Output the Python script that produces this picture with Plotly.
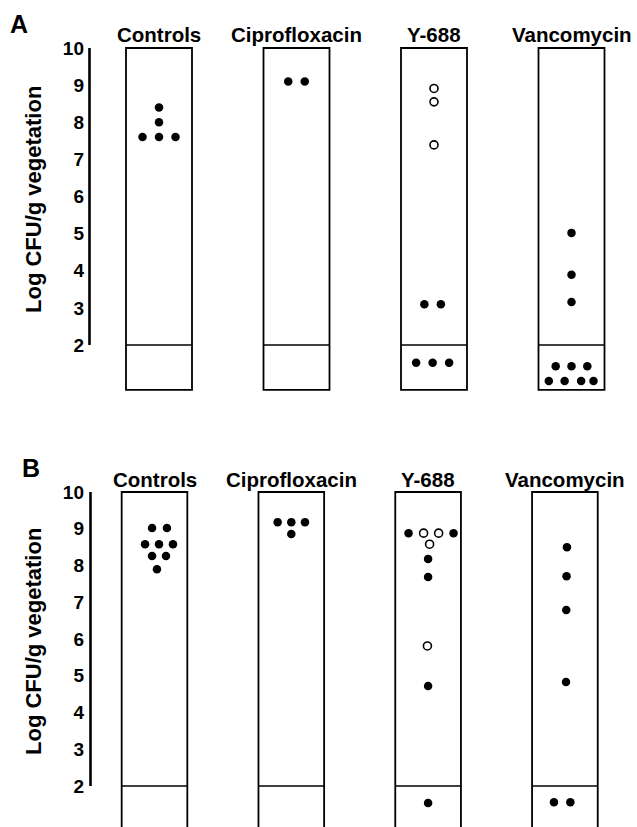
import plotly.graph_objects as go

# ---------------- data ----------------
groups = ["Controls", "Ciprofloxacin", "Y-688", "Vancomycin"]
y_ticks = [2, 3, 4, 5, 6, 7, 8, 9, 10]
y_tick_text = ["2", "3", "4", "5", "6", "7", "8", "9", "10"]
detection_limit = 2
y_title = "Log CFU/g vegetation"
panel_labels = ["A", "B"]

# Panel A (filled = solid circles, open = hollow circles)
a_solid_group = [0, 0, 0, 0, 0, 1, 1, 2, 2, 2, 2, 2, 3, 3, 3, 3, 3, 3, 3, 3, 3, 3]
a_solid_value = [8.4, 8.0, 7.6, 7.6, 7.6, 9.1, 9.1, 3.1, 3.1, 1.52, 1.52, 1.52,
                 5.02, 3.89, 3.16, 1.43, 1.43, 1.43, 1.03, 1.03, 1.03, 1.03]
a_open_group = [2, 2, 2]
a_open_value = [8.91, 8.55, 7.39]

# Panel B
b_solid_group = [0, 0, 0, 0, 0, 0, 0, 0, 1, 1, 1, 1, 2, 2, 2, 2, 2, 2, 3, 3, 3, 3, 3, 3]
b_solid_value = [9.02, 9.02, 8.58, 8.58, 8.58, 8.26, 8.26, 7.9,
                 9.18, 9.18, 9.18, 8.86,
                 8.88, 8.88, 8.18, 7.69, 4.72, 1.54,
                 8.5, 7.71, 6.79, 4.83, 1.56, 1.56]
b_open_group = [2, 2, 2, 2]
b_open_value = [8.88, 8.88, 8.58, 5.81]

# ---------------- layout helpers (dot dodge within each strip) ----------------
a_solid_dodge = [0, 0, -0.12, 0, 0.12, -0.06, 0.06, -0.07, 0.05, -0.13, -0.01, 0.11,
                 0, 0, 0, -0.115, 0, 0.115, -0.165, -0.05, 0.07, 0.16]
a_open_dodge = [0, 0, 0]
b_solid_dodge = [-0.018, 0.091, -0.069, 0.033, 0.135, -0.018, 0.084, 0.018,
                 -0.1, 0, 0.1, 0,
                 -0.143, 0.186, 0, 0, 0, 0,
                 0.015, 0.012, 0.01, 0.008, -0.08, 0.04]
b_open_dodge = [-0.033, 0.077, 0.011, -0.005]

FONT = "Liberation Sans, Arial, Helvetica, sans-serif"
W, H = 637, 827
L_M, R_M = 85, 12
box_half = 0.24

fig = go.Figure()

def add_points(groups_i, values, dodge, xa, ya, filled):
    xs = [g + d for g, d in zip(groups_i, dodge)]
    fig.add_trace(go.Scatter(
        x=xs, y=values, mode="markers", xaxis=xa, yaxis=ya,
        marker=dict(symbol="circle", size=8.5 if filled else 8,
                    color="black" if filled else "white",
                    line=dict(color="black", width=0 if filled else 1.6)),
        showlegend=False, hoverinfo="y"))

add_points(a_solid_group, a_solid_value, a_solid_dodge, "x", "y", True)
add_points(a_open_group, a_open_value, a_open_dodge, "x", "y", False)
add_points(b_solid_group, b_solid_value, b_solid_dodge, "x2", "y2", True)
add_points(b_open_group, b_open_value, b_open_dodge, "x2", "y2", False)

# pixel geometry of the two panels: (center of first strip, px per strip, axis-line px)
geom = [dict(xr="x", yr="y", c0=159.0, unit=137.5, axis_px=89.5, bottom=0.79),
        dict(xr="x2", yr="y2", c0=154.5, unit=136.8, axis_px=90.5, bottom=0.3)]

shapes = []
annotations = []
for p in geom:
    for i, g in enumerate(groups):
        shapes.append(dict(type="rect", xref=p["xr"], yref=p["yr"],
                           x0=i - box_half, x1=i + box_half, y0=p["bottom"], y1=10,
                           line=dict(color="black", width=1.8), fillcolor="rgba(0,0,0,0)",
                           layer="below"))
        shapes.append(dict(type="line", xref=p["xr"], yref=p["yr"],
                           x0=i - box_half, x1=i + box_half,
                           y0=detection_limit, y1=detection_limit,
                           line=dict(color="black", width=1.6), layer="below"))
    xa = (p["axis_px"] - p["c0"]) / p["unit"]
    shapes.append(dict(type="line", xref=p["xr"], yref=p["yr"],
                       x0=xa, x1=xa, y0=y_ticks[0], y1=y_ticks[-1],
                       line=dict(color="black", width=2.6)))

# group labels
label_y = [(H - 35) / H, (H - 479) / H]
for k, p in enumerate(geom):
    for i, g in enumerate(groups):
        annotations.append(dict(text=g, xref=p["xr"], yref="paper", x=i, y=label_y[k],
                                xanchor="center", yanchor="middle", showarrow=False,
                                font=dict(family=FONT, size=20.5, color="black", weight="bold")))

pw = W - L_M - R_M
# y titles
for yc in [200, 642]:
    annotations.append(dict(text=y_title, xref="paper", yref="paper",
                            x=(33 - L_M) / pw, y=(H - yc) / H, textangle=-90,
                            xanchor="center", yanchor="middle", showarrow=False,
                            font=dict(family=FONT, size=22, color="black", weight="bold")))
# panel letters
for lab, (xc, yc) in zip(panel_labels, [(19, 24), (31, 468)]):
    annotations.append(dict(text=lab, xref="paper", yref="paper",
                            x=(xc - L_M) / pw, y=(H - yc) / H,
                            xanchor="center", yanchor="middle", showarrow=False,
                            font=dict(family=FONT, size=25, color="black", weight="bold")))

yaxis_common = dict(tickmode="array", tickvals=y_ticks, ticktext=y_tick_text,
                    showgrid=False, zeroline=False, showline=False, ticks="",
                    tickfont=dict(family=FONT, size=19, color="black", weight="bold"),
                    automargin=False, fixedrange=True)
xaxis_common = dict(showgrid=False, zeroline=False, showline=False, showticklabels=False,
                    ticks="", automargin=False, fixedrange=True)

g0, g1 = geom
fig.update_layout(
    width=W, height=H,
    margin=dict(l=L_M, r=R_M, t=0, b=0),
    paper_bgcolor="white", plot_bgcolor="white",
    xaxis=dict(domain=[0, 1], range=[(L_M - g0["c0"]) / g0["unit"], (W - R_M - g0["c0"]) / g0["unit"]],
               anchor="y", **xaxis_common),
    yaxis=dict(domain=[(H - 395) / H, (H - 40) / H], range=[2 - 50 / 37.125, 10 + 8 / 37.125],
               anchor="x", **yaxis_common),
    xaxis2=dict(domain=[0, 1], range=[(L_M - g1["c0"]) / g1["unit"], (W - R_M - g1["c0"]) / g1["unit"]],
                anchor="y2", **xaxis_common),
    yaxis2=dict(domain=[0, (H - 484) / H], range=[2 - 41 / 36.75, 10 + 8 / 36.75],
                anchor="x2", **yaxis_common),
    shapes=shapes,
    annotations=annotations,
    showlegend=False,
)

fig.write_html("out.html", config={"displayModeBar": False},
               post_script="document.body.style.margin='0px';document.body.style.padding='0px';")
